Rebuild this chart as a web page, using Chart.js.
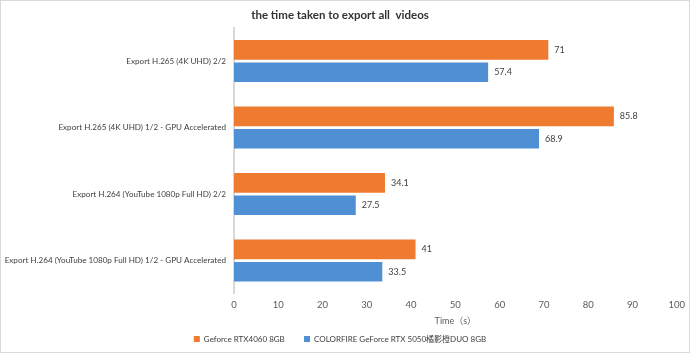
<!DOCTYPE html>
<html><head><meta charset="utf-8">
<script src="https://cdn.jsdelivr.net/npm/chart.js@4/dist/chart.umd.min.js"></script>
<style>html,body{margin:0;padding:0;background:#fff}#wrap{width:690px;height:353px}</style>
</head><body><div id="wrap"><canvas id="c" width="690" height="353"></canvas></div>
<script>
const categories = [
  "Export H.265 (4K UHD) 2/2",
  "Export H.265 (4K UHD) 1/2 - GPU Accelerated",
  "Export H.264 (YouTube 1080p Full HD) 2/2",
  "Export H.264 (YouTube 1080p Full HD) 1/2 - GPU Accelerated"
];
const seriesNames = ["Geforce RTX4060 8GB", "COLORFIRE GeForce RTX 5050橘影橙DUO 8GB"];
const rtx4060 = [71, 85.8, 34.1, 41];
const rtx5050 = [57.4, 68.9, 27.5, 33.5];
const xTicks = [0,10,20,30,40,50,60,70,80,90,100];

const FONT = "Lato, 'Noto Sans', 'Noto Sans CJK SC', sans-serif";

const valueLabels = {
  id: 'valueLabels',
  afterDatasetsDraw(chart) {
    const ctx = chart.ctx;
    ctx.save();
    ctx.font = "9px " + FONT;
    ctx.fillStyle = "#404040";
    ctx.textBaseline = "middle";
    ctx.textAlign = "left";
    chart.data.datasets.forEach((ds, i) => {
      chart.getDatasetMeta(i).data.forEach((bar, j) => {
        ctx.fillText(String(ds.data[j]), bar.x + 6, bar.y);
      });
    });
    ctx.restore();
  }
};
const frame = {
  id: 'frame',
  afterDraw(chart) {
    const ctx = chart.ctx;
    ctx.save();
    ctx.strokeStyle = "#d9d9d9";
    ctx.lineWidth = 1;
    ctx.strokeRect(0.5, 0.5, chart.width - 1, chart.height - 1);
    ctx.restore();
  }
};

new Chart(document.getElementById('c'), {
  type: 'bar',
  data: {
    labels: categories,
    datasets: [
      { label: seriesNames[0], data: rtx4060, backgroundColor: "#EE7B2F", borderWidth: 0 },
      { label: seriesNames[1], data: rtx5050, backgroundColor: "#4F8FD3", borderWidth: 0 }
    ]
  },
  options: {
    indexAxis: 'y',
    responsive: false,
    animation: false,
    devicePixelRatio: 1,
    layout: { padding: { left: 0, right: 10, top: 6, bottom: 0 } },
    datasets: { bar: { categoryPercentage: 0.67, barPercentage: 0.88 } },
    scales: {
      x: {
        min: 0, max: 100,
        afterBuildTicks(scale) { scale.ticks = xTicks.map(v => ({ value: v })); },
        grid: { display: false, drawTicks: false },
        border: { display: false },
        ticks: { color: "#595959", font: { size: 9.5, family: FONT }, padding: 5 },
        title: { display: true, text: "Time（s）", color: "#595959", font: { size: 9, family: FONT }, padding: { top: 0, bottom: 0 } }
      },
      y: {
        afterFit(scale) { scale.width = 234; },
        grid: { display: false, drawTicks: false },
        border: { display: true, color: "#d9d9d9", width: 2 },
        ticks: { color: "#404040", font: { size: 8.1, family: FONT }, padding: 8 }
      }
    },
    plugins: {
      title: { display: true, text: "the time taken to export all  videos", color: "#333333", font: { size: 11.5, weight: 'bold', family: FONT }, padding: { top: 2, bottom: 6 } },
      legend: {
        position: 'bottom',
        labels: {
          boxWidth: 6, boxHeight: 6, padding: 9, color: "#404040", font: { size: 8, family: FONT },
          generateLabels(chart) {
            const items = Chart.defaults.plugins.legend.labels.generateLabels(chart);
            items.forEach((it, i) => { if (i === 0) it.text = it.text + "     "; });
            return items;
          }
        }
      },
      tooltip: { enabled: false }
    }
  },
  plugins: [valueLabels, frame]
});
</script>
</body></html>
